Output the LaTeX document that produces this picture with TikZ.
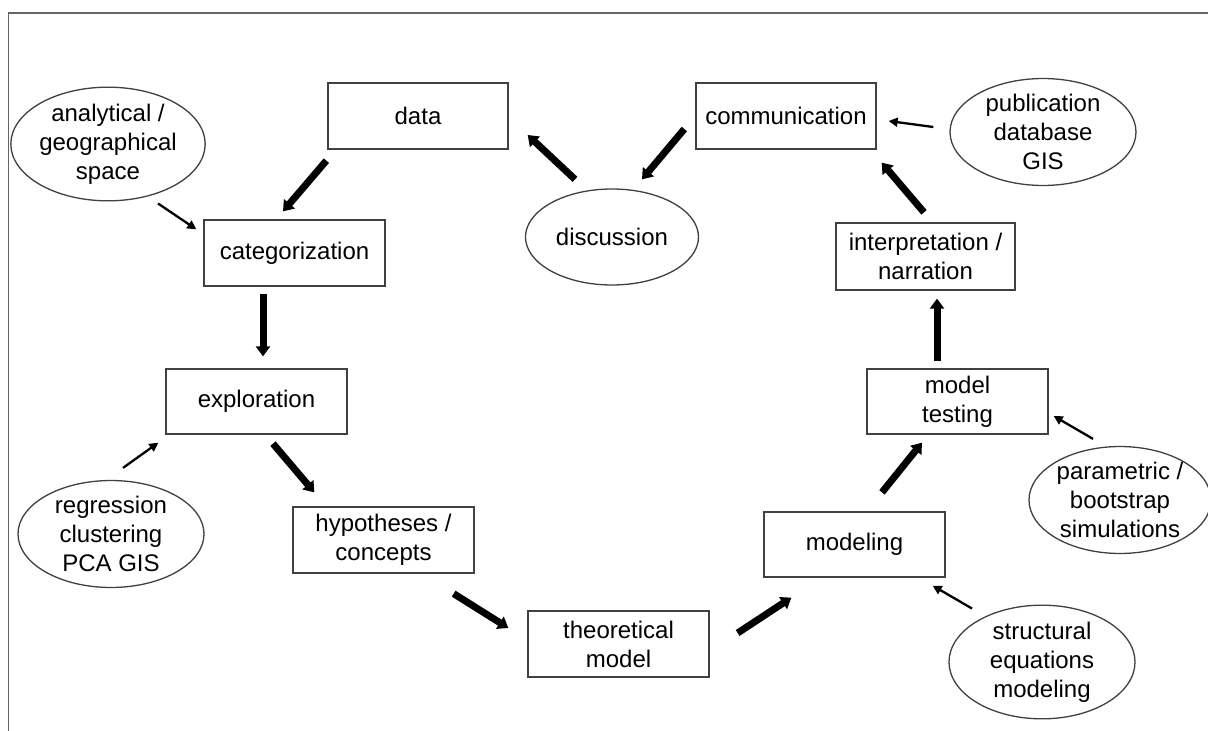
\documentclass[tikz,border=0pt]{standalone}
\usepackage{fontspec}
\setmainfont{Liberation Sans}
\usetikzlibrary{arrows.meta,calc,shapes.geometric}
\begin{document}
\begin{tikzpicture}[x=1pt,y=-1pt,
  every node/.style={font=\fontsize{24}{29}\selectfont, align=center, text=black},
  stepbox/.style={draw=black!75, line width=1.3pt, rectangle, minimum width=181pt, minimum height=66pt, inner sep=0pt},
  toolell/.style={draw=black!75, line width=1.3pt, ellipse, inner sep=0pt},
  bigarrow/.style={line width=7pt, draw=black, -{Triangle[width=14pt,length=10pt]}},
  smallarrow/.style={line width=2.3pt, draw=black, -{Triangle[width=9pt,length=9pt]}},
  frameline/.style={draw=black!60, line width=1.5pt}
]
\useasboundingbox (0,0) rectangle (1208,731);
\fill[white] (0,0) rectangle (1208,731);
\coordinate (frameA) at (8.5,731);
\coordinate (frameB) at (8.5,13);
\coordinate (frameC) at (1208,13);
\draw[frameline] (frameA) -- (frameB) -- (frameC);

% boxes
\node[stepbox, minimum width=180pt] (data) at (418,116) {data};
\node[stepbox, minimum width=180pt] (comm) at (786,116) {communication};
\node[stepbox] (cat) at (294.5,253) {categorization};
\node[stepbox, minimum width=179pt, minimum height=67pt] (interp) at (925.5,256.5) {interpretation /\\narration};
\node[stepbox, minimum height=65pt] (expl) at (256.5,401.5) {exploration};
\node[stepbox, minimum height=65pt] (mt) at (957.5,401.5) {model\\testing};
\node[stepbox] (hyp) at (383.5,540) {hypotheses /\\concepts};
\node[stepbox, minimum height=65pt] (modeling) at (854.5,544.5) {modeling};
\node[stepbox] (theo) at (618.5,644) {theoretical\\model};

% ellipses
\node[toolell, minimum width=186pt, minimum height=102pt] (anal) at (108,144) {analytical /\\geographical\\space};
\node[toolell, minimum width=173pt, minimum height=96pt] (disc) at (612,237) {discussion};
\node[toolell, minimum width=186pt, minimum height=103pt] (pub) at (1043,132) {publication\\database\\GIS};
\node[toolell, minimum width=186pt, minimum height=104pt] (reg) at (111,534) {regression\\clustering\\PCA GIS};
\node[toolell, minimum width=182pt, minimum height=94pt] (param) at (1120,500) {parametric /\\bootstrap\\simulations};
\node[toolell, minimum width=186pt, minimum height=102pt] (struct) at (1042,662) {structural\\equations\\modeling};

% thick arrows
\draw[bigarrow] ($(data.south west)+(-1,11)$) -- ($(cat.north)+(-11.5,-8)$);
\draw[bigarrow] ($(disc.north)+(-37,-9)$) -- ($(data.east)+(19,19)$);
\draw[bigarrow] ($(comm.west)+(-11,13)$) -- ($(disc.north)+(30,-9)$);
\draw[bigarrow] ($(interp.north)+(-1.5,-10)$) -- ($(comm.south east)+(5,13)$);
\draw[bigarrow] ($(mt.north)+(-20.5,-7)$) -- ($(interp.south)+(11.5,8)$);
\draw[bigarrow] ($(cat.south)+(-31.5,7)$) -- ($(expl.north)+(6.5,-12)$);
\draw[bigarrow] ($(expl.south)+(16.5,9)$) -- ($(hyp.north west)+(22,-14)$);
\draw[bigarrow] ($(hyp.south east)+(-21,20)$) -- ($(theo.west)+(-19,-16)$);
\draw[bigarrow] ($(theo.east)+(28,-11)$) -- ($(modeling.south west)+(28,20)$);
\draw[bigarrow] ($(modeling.north)+(27.5,-19)$) -- ($(mt.south)+(-35.5,8)$);

% thin arrows
\draw[smallarrow] ($(pub.west)+(-16,-5)$) -- ($(comm.east)+(12,5)$);
\draw[smallarrow] ($(anal.south)+(50,2)$) -- ($(cat.north west)+(-7,10)$);
\draw[smallarrow] ($(reg.north)+(12,-12)$) -- ($(expl.south west)+(-7,8)$);
\draw[smallarrow] ($(param.north)+(-27,-7)$) -- ($(mt.east)+(5,14.5)$);
\draw[smallarrow] ($(struct.north)+(-70,4)$) -- ($(modeling.south east)+(-13,8)$);
\end{tikzpicture}
\end{document}
